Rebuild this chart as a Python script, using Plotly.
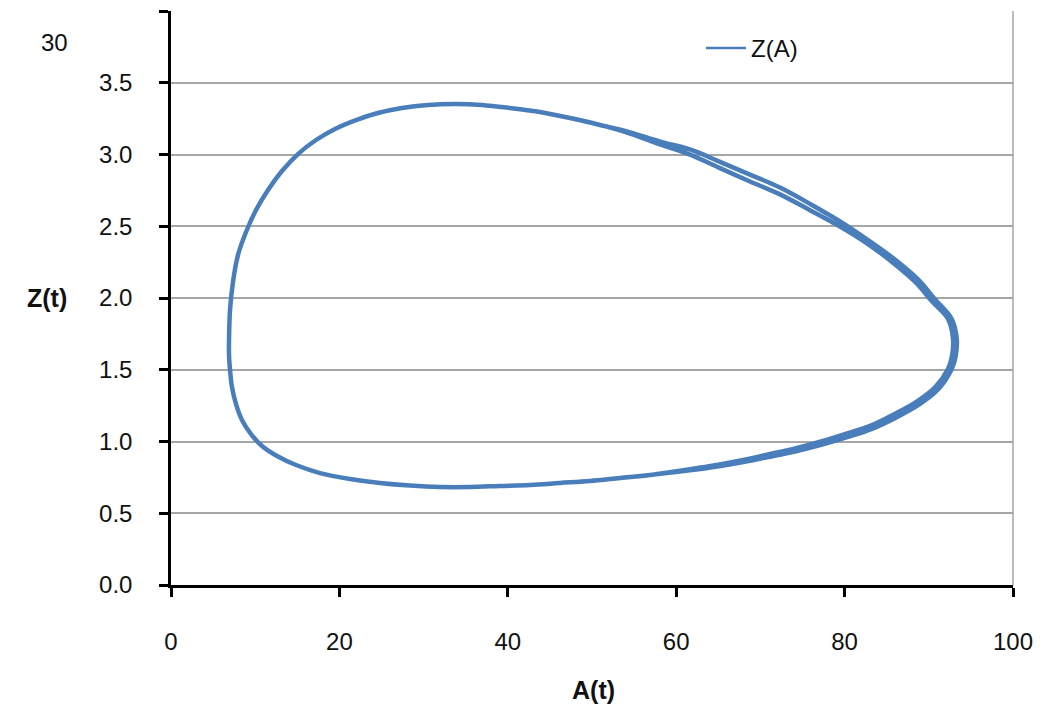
import plotly.graph_objects as go

# Limit cycle.
# Shared left part (top arc, from the leftmost point up and over to the right)
a_top = [6.89, 7.01, 7.36, 7.96, 8.91, 10.10, 11.52, 13.18, 15.08, 17.22, 19.48, 21.97, 24.58,
         27.43, 30.52, 33.73, 36.94, 40.26, 43.82, 47.39, 50.95]
z_top = [1.707, 1.916, 2.111, 2.300, 2.460, 2.613, 2.753, 2.885, 3.003, 3.101, 3.178, 3.240, 3.289,
         3.324, 3.345, 3.352, 3.345, 3.324, 3.296, 3.254, 3.206]
# Right part, outer pass
a_right_outer = [54.51, 58.08, 61.64, 65.20, 68.76, 72.33, 75.89, 79.45, 82.78, 86.09, 88.75, 90.72,
                 92.72, 93.32, 93.17, 92.72, 91.17, 88.87, 86.09, 83.25, 80.40, 77.32, 74.11, 70.78,
                 67.34, 63.90, 60.45]
z_right_outer = [3.154, 3.090, 3.035, 2.949, 2.860, 2.770, 2.656, 2.534, 2.404, 2.263, 2.128, 1.992,
                 1.854, 1.714, 1.589, 1.505, 1.367, 1.258, 1.166, 1.088, 1.032, 0.978, 0.930, 0.890,
                 0.850, 0.817, 0.791]
# Right part, inner pass
a_right_inner = [54.51, 58.08, 61.64, 65.20, 68.76, 72.33, 75.89, 79.45, 82.78, 85.89, 88.45, 90.32,
                 92.28, 92.88, 92.73, 92.28, 90.77, 88.57, 85.89, 83.25, 80.40, 77.32, 74.11, 70.78,
                 67.34, 63.90, 60.45]
z_right_inner = [3.146, 3.070, 2.999, 2.905, 2.812, 2.722, 2.612, 2.498, 2.376, 2.239, 2.108, 1.980,
                 1.854, 1.714, 1.589, 1.505, 1.379, 1.278, 1.190, 1.114, 1.058, 1.002, 0.952, 0.908,
                 0.864, 0.827, 0.797]
# Shared bottom arc back to the leftmost point
a_bottom = [56.89, 53.33, 49.76, 46.20, 42.64, 39.07, 35.51, 31.95, 28.38, 24.82, 21.26, 17.70,
            14.85, 12.59, 10.81, 9.50, 8.43, 7.72, 7.24, 7.01, 6.89, 6.89]
z_bottom = [0.767, 0.746, 0.725, 0.711, 0.697, 0.690, 0.683, 0.683, 0.693, 0.711, 0.739, 0.780,
            0.836, 0.899, 0.969, 1.052, 1.150, 1.261, 1.380, 1.498, 1.603, 1.707]

a_vals = a_top + a_right_outer + a_bottom + a_top[1:] + a_right_inner + a_bottom
z_vals = z_top + z_right_outer + z_bottom + z_top[1:] + z_right_inner + z_bottom

y_ticks = [0.0, 0.5, 1.0, 1.5, 2.0, 2.5, 3.0, 3.5, 4.0]
y_ticktext = ["0.0", "0.5", "1.0", "1.5", "2.0", "2.5", "3.0", "3.5", ""]
x_ticks = [0, 20, 40, 60, 80, 100]

# page body adds an 8px offset; work in window pixels and subtract it
OFF = 8
W, H = 1036, 707
PL, PR, PT, PB = 171, 1013, 11, 585          # plot area in window pixels
L, T = PL - OFF, PT - OFF
R, B = W - (PR - OFF), H - (PB - OFF)
PW, PH = PR - PL, PB - PT


def px(xw):
    return (xw - PL) / PW


def py(yw):
    return (PB - yw) / PH


COLOR = "#4A7EBB"
fig = go.Figure()
fig.add_trace(go.Scatter(x=a_vals, y=z_vals, mode="lines", name="Z(A)", showlegend=False,
                         line=dict(color=COLOR, width=4.5, shape="spline", smoothing=1.0)))
# legend entry with the thinner sample line
fig.add_trace(go.Scatter(x=[None], y=[None], mode="lines", name="Z(A)",
                         line=dict(color=COLOR, width=2.5)))

font_family = "Liberation Sans, Arial, sans-serif"
fig.update_layout(
    width=W, height=H,
    margin=dict(l=L, r=R, t=T, b=B, autoexpand=False),
    paper_bgcolor="white", plot_bgcolor="white",
    font=dict(family=font_family, size=24, color="#111111"),
    showlegend=True,
    legend=dict(x=px(701), y=py(26), xanchor="left", yanchor="top",
                bgcolor="rgba(0,0,0,0)", font=dict(size=24), itemwidth=40),
    xaxis=dict(range=[0, 100], tickvals=x_ticks, showgrid=False, zeroline=False,
               showline=True, linecolor="black", linewidth=2.5, automargin=False,
               ticks="outside", ticklen=9, tickwidth=2.5, tickcolor="black",
               ticklabelstandoff=24, tickfont=dict(size=24)),
    yaxis=dict(range=[0, 4.0], tickvals=y_ticks, ticktext=y_ticktext,
               showgrid=True, gridcolor="#A6A6A6", gridwidth=1.5, zeroline=False,
               showline=True, linecolor="black", linewidth=2.5, automargin=False,
               ticks="outside", ticklen=9, tickwidth=2.5, tickcolor="black",
               ticklabelstandoff=22, tickfont=dict(size=24)),
)

# right border of plot area
fig.add_shape(type="line", xref="paper", yref="paper", x0=1, x1=1, y0=0, y1=1,
              line=dict(color="#A6A6A6", width=1.5))

fig.add_annotation(text="<b>A(t)</b>", xref="paper", yref="paper", x=px(593), y=py(690),
                   showarrow=False, font=dict(size=25), xanchor="center", yanchor="middle")
fig.add_annotation(text="<b>Z(t)</b>", xref="paper", yref="paper", x=px(47), y=py(298),
                   showarrow=False, font=dict(size=25), xanchor="center", yanchor="middle")
fig.add_annotation(text="30", xref="paper", yref="paper", x=px(54), y=py(42),
                   showarrow=False, font=dict(size=24), xanchor="center", yanchor="middle")

fig.write_html("out.html")
